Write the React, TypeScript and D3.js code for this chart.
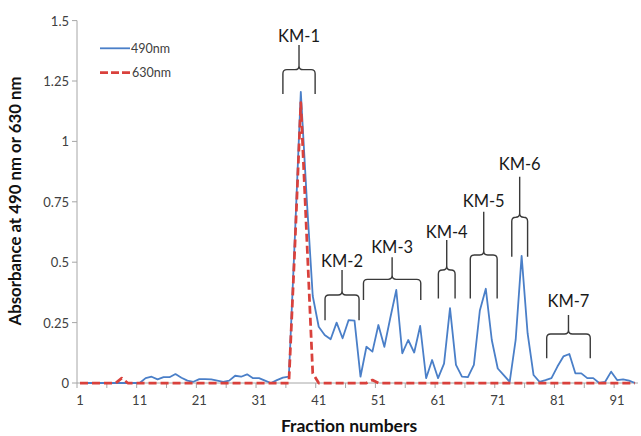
import * as d3 from 'd3';

// fractions 1..94, absorbance
const abs490 = [
  0, 0, 0, 0, 0, 0, 0, 0, 0, 0,
  0, 0.02, 0.026, 0.015, 0.024, 0.024, 0.037, 0.022, 0.01, 0.005,
  0.016, 0.016, 0.015, 0.01, 0.005, 0.01, 0.03, 0.026, 0.036, 0.02,
  0.02, 0.01, 0, 0.012, 0.022, 0.026, 0.6, 1.205, 0.76, 0.36,
  0.233, 0.199, 0.181, 0.25, 0.185, 0.26, 0.258, 0.026, 0.15, 0.13,
  0.24, 0.15, 0.27, 0.385, 0.123, 0.178, 0.126, 0.236, 0.02, 0.095,
  0.02, 0.08, 0.31, 0.075, 0.026, 0.024, 0.075, 0.3, 0.39, 0.178,
  0.06, 0.033, 0.005, 0.178, 0.526, 0.206, 0.033, 0.005, 0.012, 0.02,
  0.068, 0.11, 0.12, 0.04, 0.04, 0.02, 0.02, 0, 0.005, 0.047,
  0.012, 0.015, 0.01, 0,
];

const abs630 = [
  0, 0, 0, 0, 0, 0, 0, 0.02, 0, 0,
  0, 0, 0, 0, 0, 0, 0, 0, 0, 0,
  0, 0, 0, 0, 0, 0, 0, 0, 0, 0,
  0, 0, 0, 0, 0, 0, 0.56, 1.16, 0.6, 0.04,
  0, 0, 0, 0, 0, 0, 0, 0, 0, 0.012,
  0, 0, 0, 0, 0, 0, 0, 0, 0, 0,
  0, 0, 0, 0, 0, 0, 0, 0, 0, 0,
  0, 0, 0, 0, 0, 0, 0, 0, 0, 0,
  0, 0, 0, 0, 0, 0, 0, 0, 0, 0,
  0, 0, 0, 0,
];

const yTickValues = [0, 0.25, 0.5, 0.75, 1, 1.25, 1.5];
const xTickLabels = [1, 11, 21, 31, 41, 51, 61, 71, 81, 91];

// peak groups: bracket span in fraction units, heights in absorbance units
const kmLabels = ['KM-1', 'KM-2', 'KM-3', 'KM-4', 'KM-5', 'KM-6', 'KM-7'];
const kmStart = [35.0, 42.06, 48.5, 61.05, 66.4, 73.35, 79.2];
const kmEnd = [40.4, 47.76, 58.1, 63.85, 70.9, 76.0, 86.5];
const kmBar = [1.297, 0.364, 0.429, 0.468, 0.53, 0.686, 0.203];
const kmLeg = [1.196, 0.26, 0.344, 0.35, 0.35, 0.523, 0.102];
const kmTip = [1.399, 0.468, 0.52, 0.592, 0.709, 0.854, 0.281];
const kmText = [1.413, 0.48, 0.537, 0.599, 0.73, 0.88, 0.316];

const FONT = "Lato, 'Open Sans', sans-serif";
const BLUE = '#4a7fc8';
const RED = '#d9413c';
const AXIS = '#a6a6a6';
const TEXT = '#404040';

function bracePath(x1, x2, yBar, yLeg, yTip) {
  const r = 4;
  const xc = (x1 + x2) / 2;
  return [
    `M${x1},${yLeg}`,
    `L${x1},${yBar + r}`,
    `Q${x1},${yBar} ${x1 + r},${yBar}`,
    `L${xc - r},${yBar}`,
    `Q${xc},${yBar} ${xc},${yBar - r}`,
    `L${xc},${yTip}`,
    `M${x2},${yLeg}`,
    `L${x2},${yBar + r}`,
    `Q${x2},${yBar} ${x2 - r},${yBar}`,
    `L${xc + r},${yBar}`,
    `Q${xc},${yBar} ${xc},${yBar - r}`,
  ].join(' ');
}

export default function App() {
  const width = 641;
  const height = 436;
  const n = abs490.length;

  const x = d3.scaleLinear().domain([0.5, n + 0.5]).range([77, 638]);
  const y = d3.scaleLinear().domain([0, 1.5]).range([383, 20.6]);

  const line = d3.line<number>()
    .x((_, i) => x(i + 1))
    .y((d) => y(d));

  const tickMarks = d3.range(0, n, 5);

  return (
    <>
      <style>{`body{margin:0}`}</style>
      <svg width={width} height={height} viewBox={`0 0 ${width} ${height}`} style={{ display: 'block', background: '#fff' }}>
        {/* Y axis */}
        <g>
          <line x1={77} x2={77} y1={y(1.5)} y2={y(0)} stroke={AXIS} />
          {yTickValues.map((t) => (
            <g key={`yt-${t}`} transform={`translate(0,${y(t)})`}>
              <line x1={72} x2={77} stroke={AXIS} />
              <text x={69} textAnchor="end" dominantBaseline="central" fill={TEXT} fontSize={13} fontFamily={FONT}>
                {d3.format('~g')(t)}
              </text>
            </g>
          ))}
          <text
            transform={`translate(21,201) rotate(-90)`}
            textAnchor="middle"
            fill="#111"
            fontSize={16.8}
            fontWeight="bold"
            fontFamily={FONT}
          >
            Absorbance at 490 nm or 630 nm
          </text>
        </g>

        {/* X axis */}
        <g>
          <line x1={x(0.5)} x2={x(n + 0.5)} y1={y(0)} y2={y(0)} stroke={AXIS} />
          {tickMarks.map((k) => (
            <line key={`xm-${k}`} x1={x(k + 0.5)} x2={x(k + 0.5)} y1={y(0)} y2={y(0) + 5} stroke={AXIS} />
          ))}
          {xTickLabels.map((t) => (
            <text key={`xl-${t}`} x={x(t)} y={400} textAnchor="middle" dominantBaseline="central" fill={TEXT} fontSize={13} fontFamily={FONT}>
              {t}
            </text>
          ))}
          <text x={349} y={432} textAnchor="middle" fill="#111" fontSize={17.5} fontWeight="bold" fontFamily={FONT}>
            Fraction numbers
          </text>
        </g>

        {/* Series */}
        <path d={line(abs490) || ''} fill="none" stroke={BLUE} strokeWidth={1.8} strokeLinejoin="round" />
        <path d={line(abs630) || ''} fill="none" stroke={RED} strokeWidth={2.75} strokeDasharray="8,4" strokeLinejoin="round" />

        {/* Brackets */}
        {kmLabels.map((lab, i) => {
          const x1 = x(kmStart[i]);
          const x2 = x(kmEnd[i]);
          return (
            <g key={lab}>
              <path
                d={bracePath(x1, x2, y(kmBar[i]), y(kmLeg[i]), y(kmTip[i]))}
                fill="none"
                stroke="#3a3a3a"
                strokeWidth={1.4}
              />
              <text x={(x1 + x2) / 2} y={y(kmText[i])} textAnchor="middle" fill="#1a1a1a" fontSize={16.5} fontFamily={FONT}>
                {lab}
              </text>
            </g>
          );
        })}

        {/* Legend */}
        <g fontFamily={FONT} fontSize={12.5} fill={TEXT}>
          <line x1={100} x2={130} y1={48.3} y2={48.3} stroke={BLUE} strokeWidth={1.8} />
          <text x={131} y={48.3} dominantBaseline="central">490nm</text>
          <line x1={100} x2={130} y1={72.7} y2={72.7} stroke={RED} strokeWidth={2.75} strokeDasharray="8,3" />
          <text x={132} y={72.7} dominantBaseline="central">630nm</text>
        </g>
      </svg>
    </>
  );
}
